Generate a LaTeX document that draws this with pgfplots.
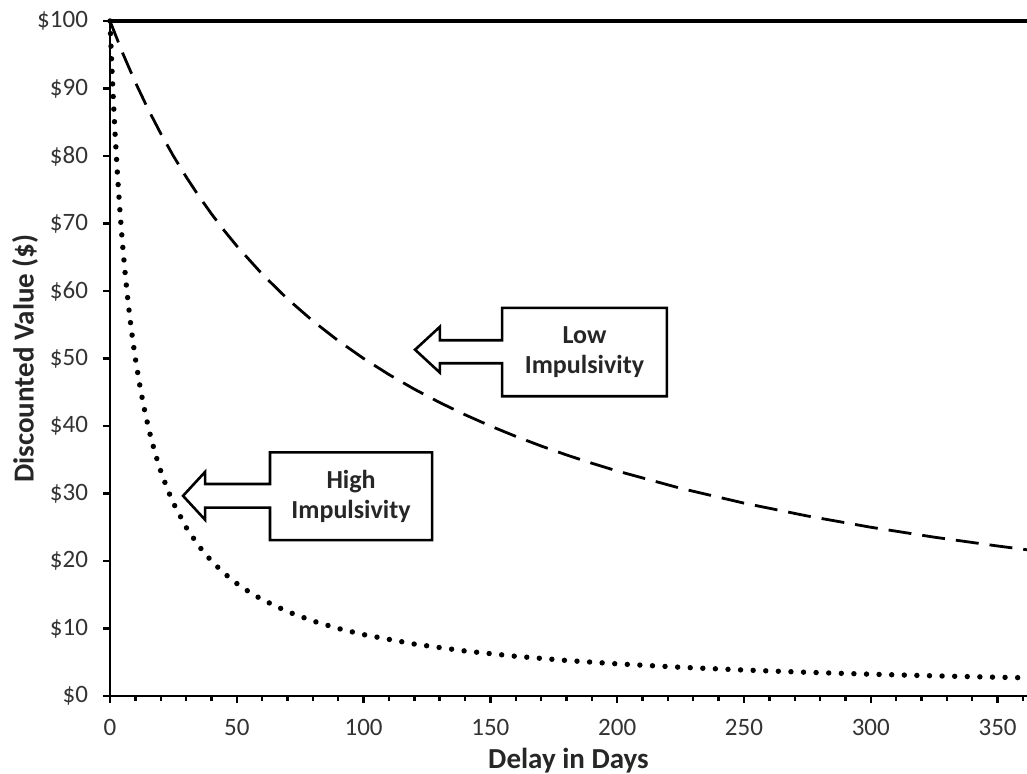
\documentclass[border=0pt]{standalone}
\usepackage{pgfplots}
\pgfplotsset{compat=1.18}
\usepackage{fontspec}
\setmainfont{Carlito}
\begin{document}
\begin{tikzpicture}
\begin{axis}[
  at={(0,0)}, anchor=south west,
  scale only axis,
  width=458.5pt, height=337.5pt,
  xmin=0, xmax=361.6, ymin=0, ymax=100,
  axis x line*=bottom, axis y line*=left,
  axis line style={line width=1.4pt, -},
  xtick={0,50,...,350},
  minor xtick={10,20,30,40,60,70,80,90,110,120,130,140,160,170,180,190,210,220,230,240,260,270,280,290,310,320,330,340,360},
  ytick={0,10,...,100},
  tick align=outside,
  major tick length=3.5pt, minor tick length=2.5pt,
  every tick/.style={black, line width=1.2pt},
  /pgf/number format/assume math mode=true,
  tick label style={font=\fontsize{12.5}{14}\selectfont, text=black!80},
  xticklabel style={yshift=-4.5pt},
  yticklabel style={xshift=-4pt},
  yticklabel={\$\pgfmathprintnumber{\tick}},
  xlabel={Delay in Days},
  ylabel={Discounted Value (\$)},
  label style={font=\fontsize{14.5}{16}\selectfont\bfseries, text=black!85},
  xlabel style={at={(axis description cs:0.5,0)}, anchor=center, yshift=-32.5pt},
  ylabel style={at={(axis description cs:0,0.5)}, anchor=center, yshift=42.5pt},
  clip=false,
]
% no discounting
\addplot[black, line width=1.6pt] coordinates {(0,100) (361.6,100)};
% low impulsivity
\addplot[black, line width=1.4pt, dash pattern=on 11.5pt off 5.5pt] coordinates {
(0,100) (5,95.238) (10,90.909) (15,86.957) (20,83.333) (25,80) (30,76.923) (35,74.074) (40,71.429) (45,68.966) (50,66.667) (60,62.5) (70,58.824) (80,55.556) (90,52.632) (100,50) (110,47.619) (120,45.455) (130,43.478) (140,41.667) (150,40) (160,38.462) (170,37.037) (180,35.714) (190,34.483) (200,33.333) (225,30.769) (250,28.571) (275,26.667) (300,25) (325,23.529) (350,22.222) (361.6,21.662)
};
% high impulsivity
\addplot[black, line width=2.7pt, line cap=round, dash pattern=on 0pt off 6.3pt] coordinates {
(0,100) (0.5,95.238) (1,90.909) (1.5,86.957) (2,83.333) (3,76.923) (4,71.429) (5,66.667) (6,62.5) (7,58.824) (8,55.556) (9,52.632) (10,50) (12,45.455) (14,41.667) (16,38.462) (18,35.714) (20,33.333) (22.5,30.769) (25,28.571) (30,25) (35,22.222) (40,20) (45,18.182) (50,16.667) (55,15.385) (60,14.286) (70,12.5) (80,11.111) (90,10) (100,9.091) (120,7.692) (140,6.667) (160,5.882) (180,5.263) (200,4.762) (225,4.255) (250,3.846) (275,3.509) (300,3.226) (325,2.985) (350,2.778) (361.6,2.693)
};
% annotations
\draw[black, line width=1.3pt, fill=white, line join=miter]
  (axis cs:154.6,57.5) -- (axis cs:219.6,57.5) -- (axis cs:219.6,44.4) -- (axis cs:154.6,44.4)
  -- (axis cs:154.6,49.3) -- (axis cs:130.1,49.3) -- (axis cs:130.1,47.9) -- (axis cs:120.3,51.3)
  -- (axis cs:130.1,54.7) -- (axis cs:130.1,52.7) -- (axis cs:154.6,52.7) -- cycle;
\node[align=center, font=\fontsize{13}{15}\selectfont\bfseries, text=black!85] at (axis cs:187.1,51) {Low\\Impulsivity};
\draw[black, line width=1.3pt, fill=white, line join=miter]
  (axis cs:63.1,36.1) -- (axis cs:127.0,36.1) -- (axis cs:127.0,23.1) -- (axis cs:63.1,23.1)
  -- (axis cs:63.1,27.9) -- (axis cs:37.5,27.9) -- (axis cs:37.5,26.1) -- (axis cs:28.8,29.65)
  -- (axis cs:37.5,33.2) -- (axis cs:37.5,31.4) -- (axis cs:63.1,31.4) -- cycle;
\node[align=center, font=\fontsize{13}{15}\selectfont\bfseries, text=black!85] at (axis cs:95.05,29.6) {High\\Impulsivity};
\end{axis}
\pgfresetboundingbox
\path[use as bounding box] (-55pt,-39pt) rectangle (458.5pt,348pt);
\end{tikzpicture}
\end{document}
